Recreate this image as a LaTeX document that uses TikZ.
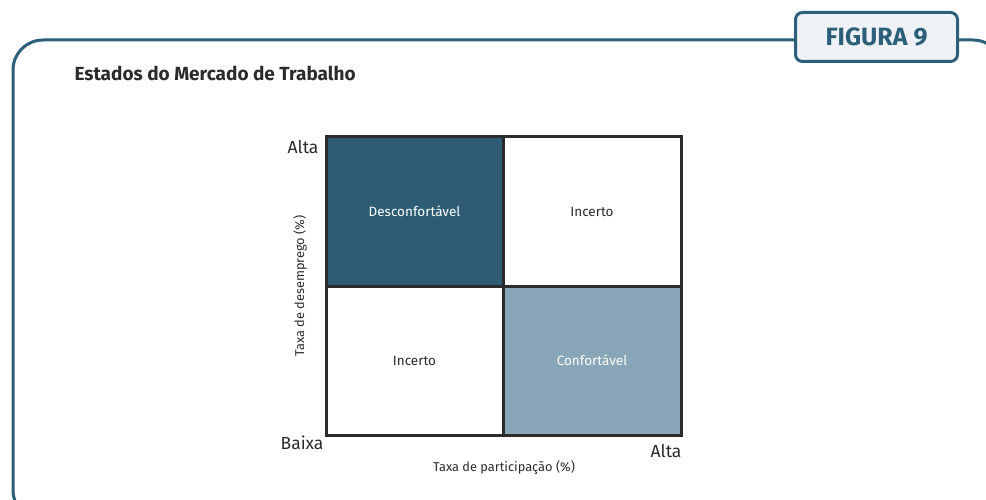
\documentclass[tikz,border=0pt]{standalone}
\usepackage{fontspec}
\setmainfont{Fira Sans}
\definecolor{frameblue}{HTML}{2C5F7A}
\definecolor{darkcell}{HTML}{2E5C74}
\definecolor{lightcell}{HTML}{88A6B8}
\definecolor{boxfill}{HTML}{EEF2F6}
\definecolor{txt}{HTML}{2B2B2B}
\begin{document}
\begin{tikzpicture}[x=1pt,y=-1pt,
  frameline/.style={draw=frameblue,line width=3pt},
  cell/.style={draw=txt,line width=3pt},
  celltext/.style={font=\fontsize{13.5}{16}\selectfont},
  axlabel/.style={font=\fontsize{17.5}{20}\selectfont,text=txt},
  axtitle/.style={font=\fontsize{12.8}{15}\selectfont,text=txt}]
\useasboundingbox (0,0) rectangle (986,500);
\begin{scope}
\clip (0,0) rectangle (986,500);
\draw[frameline,rounded corners=30pt] (13,40) rectangle (1003,520);
\end{scope}
\node[frameline,fill=boxfill,rounded corners=7pt,minimum width=162pt,minimum height=49pt,
  text=frameblue,font=\fontsize{25}{28}\selectfont\bfseries] (fig) at (876.5,37) {FIGURA 9};
\node[anchor=west,text=txt,font=\fontsize{19}{22}\selectfont\bfseries] (title) at (71,73) {Estados do Mercado de Trabalho};
% cells
\path[cell,fill=darkcell] (326,137) rectangle (503,286) node[midway,celltext,text=white] (c1) {Desconfortável};
\path[cell,fill=white] (503,137) rectangle (681,286) node[midway,celltext,text=txt] (c2) {Incerto};
\path[cell,fill=white] (326,286) rectangle (503,435) node[midway,celltext,text=txt] (c3) {Incerto};
\path[cell,fill=lightcell] (503,286) rectangle (681,435) node[midway,celltext,text=white] (c4) {Confortável};
% labels
\node[axlabel,anchor=east] (ya) at (322,147) {Alta};
\node[axlabel,anchor=east] (yb) at (327,443) {Baixa};
\node[axlabel,anchor=east] (xa) at (685,451) {Alta};
\node[axtitle] (xt) at (504,468) {Taxa de participação (\%)};
\node[axtitle,rotate=90] (yt) at (300,286) {Taxa de desemprego (\%)};
\end{tikzpicture}
\end{document}
